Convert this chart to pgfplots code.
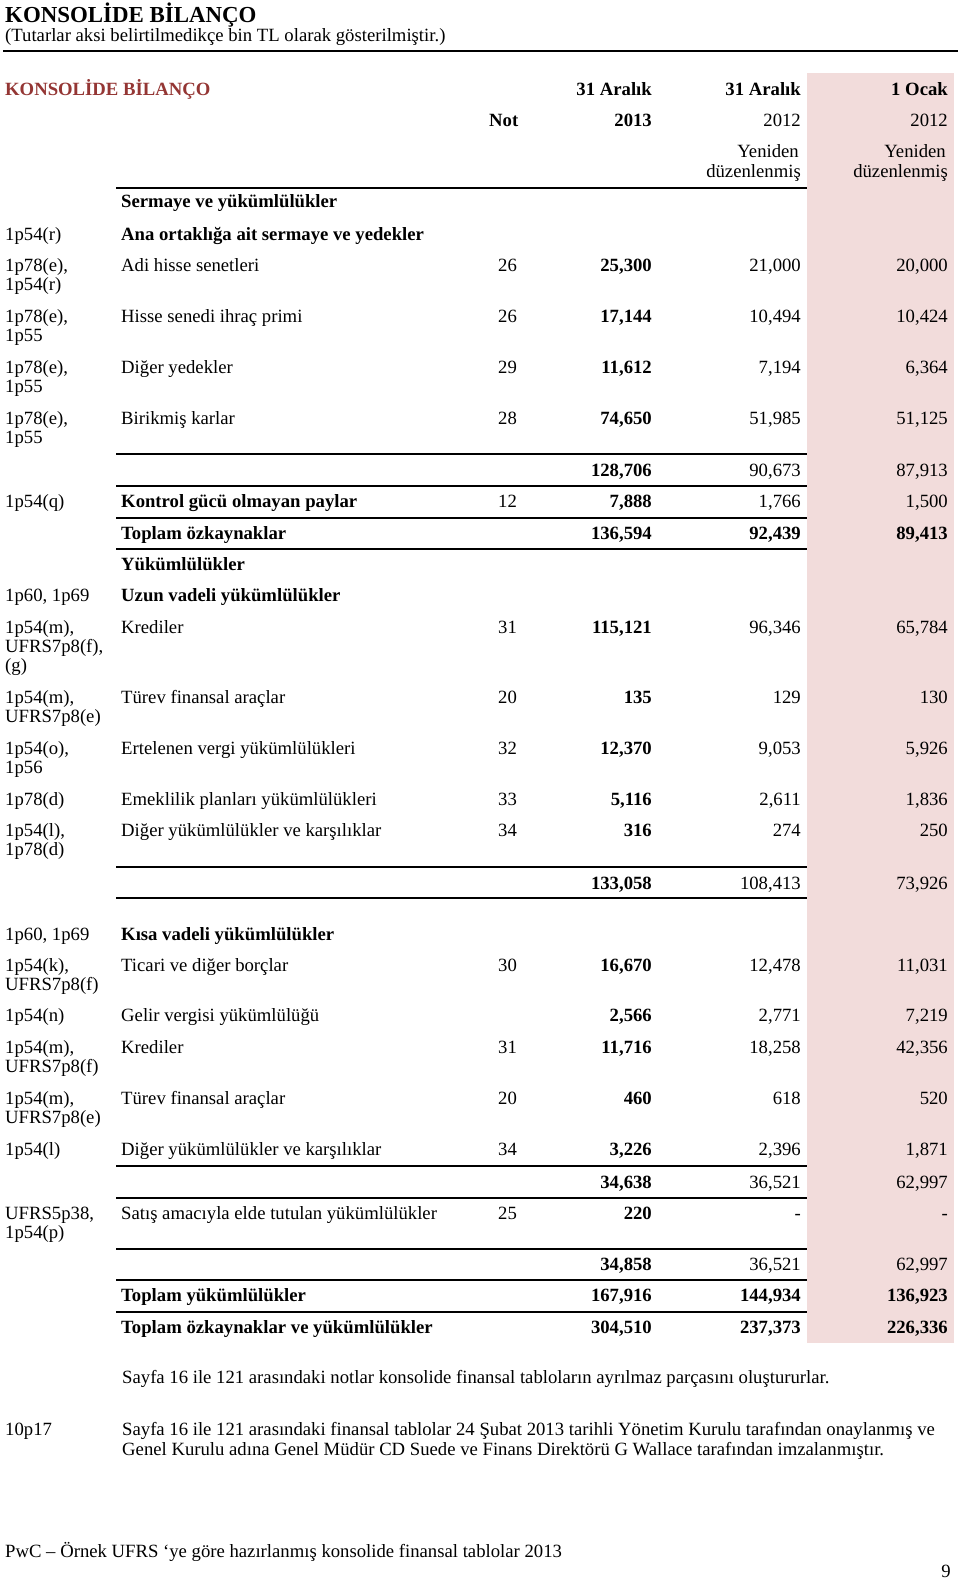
\documentclass[border=0pt]{standalone}
\usepackage{pgfplots}
\pgfplotsset{compat=1.18}
\usepackage{fontspec}
\setmainfont{Liberation Serif}
\definecolor{pinkbg}{RGB}{242,220,219}
\definecolor{titlered}{RGB}{148,54,52}
\newcommand{\fs}{\fontsize{18.7}{19}\selectfont}
\newcommand{\TL}[3]{\node[anchor=base west,inner sep=0pt,font=\fs] at (axis cs:#1,#2) {#3};}
\newcommand{\TR}[3]{\node[anchor=base east,inner sep=0pt,font=\fs] at (axis cs:#1,#2) {#3};}
\newcommand{\HL}[3]{\addplot[black,line width=1.3pt] coordinates {(#2,#1) (#3,#1)};}
% row: y, label, note, v2013, v2012, v2012jan (label plain, 2013 bold)
\newcommand{\ROW}[6]{\TL{121}{#1}{#2}\TL{498}{#1}{#3}\TR{652}{#1}{\textbf{#4}}\TR{801}{#1}{#5}\TR{948}{#1}{#6}}
\begin{document}
\begin{tikzpicture}
\begin{axis}[scale only axis, width=960pt, height=1583pt,
  xmin=0, xmax=960, ymin=0, ymax=1583, y dir=reverse,
  hide axis, clip=false]
\addplot[draw=none] coordinates {(0,0) (960,1583)};
% pink column
\addplot[fill=pinkbg, draw=none] coordinates {(807,73) (954,73) (954,1343) (807,1343)} --cycle;
% rules
\addplot[black,line width=1.6pt] coordinates {(3,51) (958,51)};
\HL{188}{116}{807}
\HL{454}{116}{807}
\HL{486}{116}{807}
\HL{518}{116}{807}
\HL{549}{116}{807}
\HL{867}{116}{807}
\HL{898}{116}{807}
\HL{1166}{116}{807}
\HL{1198}{116}{807}
\HL{1249}{116}{807}
\HL{1280}{116}{807}
\HL{1312}{116}{807}
% titles
\node[anchor=base west,inner sep=0pt,font=\fontsize{22.9}{24}\selectfont\bfseries] at (axis cs:5,22.5) {KONSOLİDE BİLANÇO};
\TL{5}{41.5}{(Tutarlar aksi belirtilmedikçe bin TL olarak gösterilmiştir.)}
\node[anchor=base west,inner sep=0pt,font=\fs\bfseries,text=titlered] at (axis cs:5,95) {KONSOLİDE BİLANÇO};
% header
\TR{652}{95}{\textbf{31 Aralık}}
\TR{801}{95}{\textbf{31 Aralık}}
\TR{948}{95}{\textbf{1 Ocak}}
\TL{489}{126}{\textbf{Not}}
\TR{652}{126}{\textbf{2013}}
\TR{801}{126}{2012}
\TR{948}{126}{2012}
\TR{799}{157}{Yeniden}
\TR{801}{177}{düzenlenmiş}
\TR{946}{157}{Yeniden}
\TR{948}{177}{düzenlenmiş}
% equity
\TL{121}{207}{\textbf{Sermaye ve yükümlülükler}}
\TL{5}{240}{1p54(r)}
\TL{121}{240}{\textbf{Ana ortaklığa ait sermaye ve yedekler}}
\TL{5}{271.7}{1p78(e),}\TL{5}{290.7}{1p54(r)}
\ROW{271.7}{Adi hisse senetleri}{26}{25,300}{21,000}{20,000}
\TL{5}{322.7}{1p78(e),}\TL{5}{341.7}{1p55}
\ROW{322.7}{Hisse senedi ihraç primi}{26}{17,144}{10,494}{10,424}
\TL{5}{373.3}{1p78(e),}\TL{5}{392.3}{1p55}
\ROW{373.3}{Diğer yedekler}{29}{11,612}{7,194}{6,364}
\TL{5}{424}{1p78(e),}\TL{5}{443}{1p55}
\ROW{424}{Birikmiş karlar}{28}{74,650}{51,985}{51,125}
\ROW{476.7}{}{}{128,706}{90,673}{87,913}
\TL{5}{507.3}{1p54(q)}
\ROW{507.3}{\textbf{Kontrol gücü olmayan paylar}}{12}{7,888}{1,766}{1,500}
\ROW{539.3}{\textbf{Toplam özkaynaklar}}{}{136,594}{\textbf{92,439}}{\textbf{89,413}}
% liabilities
\TL{121}{570.7}{\textbf{Yükümlülükler}}
\TL{5}{601.7}{1p60, 1p69}
\TL{121}{601.7}{\textbf{Uzun vadeli yükümlülükler}}
\TL{5}{633.3}{1p54(m),}\TL{5}{652.7}{UFRS7p8(f),}\TL{5}{671.7}{(g)}
\ROW{633.3}{Krediler}{31}{115,121}{96,346}{65,784}
\TL{5}{703.3}{1p54(m),}\TL{5}{722.7}{UFRS7p8(e)}
\ROW{703.3}{Türev finansal araçlar}{20}{135}{129}{130}
\TL{5}{754}{1p54(o),}\TL{5}{773.3}{1p56}
\ROW{754}{Ertelenen vergi yükümlülükleri}{32}{12,370}{9,053}{5,926}
\TL{5}{805}{1p78(d)}
\ROW{805}{Emeklilik planları yükümlülükleri}{33}{5,116}{2,611}{1,836}
\TL{5}{836}{1p54(l),}\TL{5}{855}{1p78(d)}
\ROW{836}{Diğer yükümlülükler ve karşılıklar}{34}{316}{274}{250}
\ROW{889.3}{}{}{133,058}{108,413}{73,926}
\TL{5}{940}{1p60, 1p69}
\TL{121}{940}{\textbf{Kısa vadeli yükümlülükler}}
\TL{5}{971}{1p54(k),}\TL{5}{990}{UFRS7p8(f)}
\ROW{971}{Ticari ve diğer borçlar}{30}{16,670}{12,478}{11,031}
\TL{5}{1021.7}{1p54(n)}
\ROW{1021.7}{Gelir vergisi yükümlülüğü}{}{2,566}{2,771}{7,219}
\TL{5}{1053.3}{1p54(m),}\TL{5}{1072.7}{UFRS7p8(f)}
\ROW{1053.3}{Krediler}{31}{11,716}{18,258}{42,356}
\TL{5}{1104.3}{1p54(m),}\TL{5}{1123.3}{UFRS7p8(e)}
\ROW{1104.3}{Türev finansal araçlar}{20}{460}{618}{520}
\TL{5}{1155}{1p54(l)}
\ROW{1155}{Diğer yükümlülükler ve karşılıklar}{34}{3,226}{2,396}{1,871}
\ROW{1188.3}{}{}{34,638}{36,521}{62,997}
\TL{5}{1219.3}{UFRS5p38,}\TL{5}{1238.3}{1p54(p)}
\ROW{1219.3}{Satış amacıyla elde tutulan yükümlülükler}{25}{220}{-}{-}
\ROW{1270.7}{}{}{34,858}{36,521}{62,997}
\ROW{1301.7}{\textbf{Toplam yükümlülükler}}{}{167,916}{\textbf{144,934}}{\textbf{136,923}}
\ROW{1333.3}{\textbf{Toplam özkaynaklar ve yükümlülükler}}{}{304,510}{\textbf{237,373}}{\textbf{226,336}}
% footer
\TL{122}{1383}{Sayfa 16 ile 121 arasındaki notlar konsolide finansal tabloların ayrılmaz parçasını oluştururlar.}
\TL{5}{1435}{10p17}
\TL{122}{1435}{Sayfa 16 ile 121 arasındaki finansal tablolar 24 Şubat 2013 tarihli Yönetim Kurulu tarafından onaylanmış ve}
\TL{122}{1455}{Genel Kurulu adına Genel Müdür CD Suede ve Finans Direktörü G Wallace tarafından imzalanmıştır.}
\TL{5}{1557}{PwC – Örnek UFRS ‘ye göre hazırlanmış konsolide finansal tablolar 2013}
\TR{951}{1577}{9}
\end{axis}
\end{tikzpicture}
\end{document}
